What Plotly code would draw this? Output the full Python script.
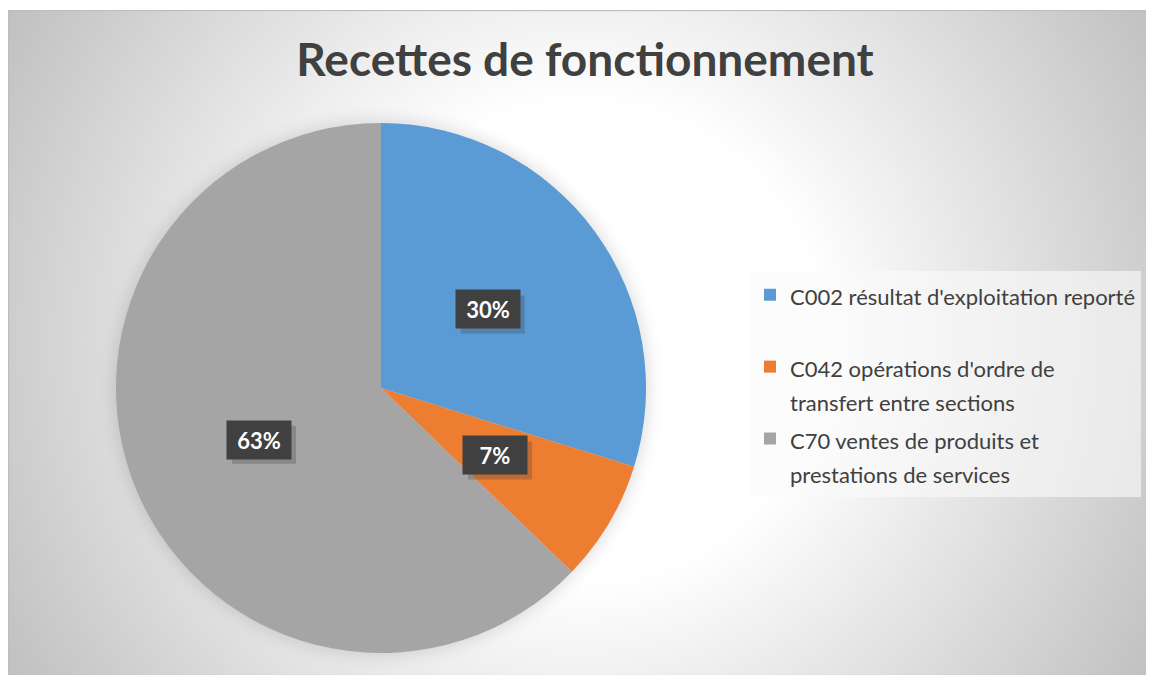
import base64
import math
import plotly.graph_objects as go

# ---- data ----
categories = [
    "C002 résultat d'exploitation reporté",
    "C042 opérations d'ordre de transfert entre sections",
    "C70 ventes de produits et prestations de services",
]
legend_lines = [
    ["C002 résultat d'exploitation reporté", " "],
    ["C042 opérations d'ordre de", "transfert entre sections"],
    ["C70 ventes de produits et", "prestations de services"],
]
values = [29.8, 7.4, 62.8]
colors = ["#5B9BD5", "#ED7D31", "#A5A5A5"]
title_text = "Recettes de fonctionnement"

# ---- layout geometry (figure pixels; page has an 8px body margin) ----
W, H = 1146, 667
PIE_CX, PIE_CY, PIE_R = 373, 380, 265
FRAME_X0, FRAME_Y0 = 0, 2
TEXT_COLOR = "#404040"
FONT = "Lato"
BOX_W, BOX_H = 64, 38

dom_x = [(PIE_CX - PIE_R) / W, (PIE_CX + PIE_R) / W]
dom_y = [1 - (PIE_CY + PIE_R) / H, 1 - (PIE_CY - PIE_R) / H]

# ---- background: radial gradient + pie shadow, as an SVG layout image ----
fw, fh = W - FRAME_X0, H - FRAME_Y0
svg = f'''<svg xmlns="http://www.w3.org/2000/svg" width="{fw}" height="{fh}" viewBox="0 0 {fw} {fh}">
<defs>
<radialGradient id="g" gradientUnits="userSpaceOnUse" cx="{fw/2}" cy="{fh/2}" r="662">
<stop offset="0.36" stop-color="#ffffff"/>
<stop offset="1" stop-color="#c0c0c0"/>
</radialGradient>
<filter id="b" x="-30%" y="-30%" width="160%" height="160%"><feGaussianBlur stdDeviation="8"/></filter>
</defs>
<rect width="{fw}" height="{fh}" fill="url(#g)"/>
<circle cx="{PIE_CX - FRAME_X0}" cy="{PIE_CY - FRAME_Y0}" r="{PIE_R + 3}" fill="#000" fill-opacity="0.12" filter="url(#b)"/>
<rect x="0.5" y="0.5" width="{fw}" height="{fh}" fill="none" stroke="#bdbdbd" stroke-width="1.2"/>
</svg>'''
svg_uri = "data:image/svg+xml;base64," + base64.b64encode(svg.encode("utf-8")).decode("ascii")

# ---- legend labels with larger line spacing ----
def legend_label(lines):
    return "<br>".join(f'<span style="font-size:22px">{ln}</span>' for ln in lines)

fig = go.Figure(
    go.Pie(
        labels=[legend_label(l) for l in legend_lines],
        values=values,
        sort=False,
        direction="clockwise",
        rotation=0,
        textinfo="none",
        marker=dict(colors=colors, line=dict(width=0)),
        domain=dict(x=dom_x, y=dom_y),
        hovertext=categories,
        hoverinfo="text+percent",
    )
)

# ---- percentage labels (boxes) computed from the values ----
total = sum(values)
annotations, shapes = [], []
start = 0.0
for v in values:
    frac = v / total
    mid = (start + frac / 2) * 2 * math.pi
    start += frac
    px = PIE_CX + 0.5 * PIE_R * math.sin(mid)
    py = PIE_CY - 0.5 * PIE_R * math.cos(mid)
    # drop shadow of the label box
    shapes.append(dict(type="rect", xref="paper", yref="paper", layer="above",
                       x0=(px - BOX_W / 2 + 5) / W, x1=(px + BOX_W / 2 + 5) / W,
                       y0=1 - (py + BOX_H / 2 + 5) / H, y1=1 - (py - BOX_H / 2 + 5) / H,
                       fillcolor="rgba(60,60,60,0.28)", line=dict(width=0)))
    annotations.append(dict(text=f"<b>{round(frac * 100):d}%</b>",
                            x=px / W, y=1 - py / H, xref="paper", yref="paper",
                            showarrow=False, width=BOX_W - 4, height=BOX_H - 4, borderpad=2,
                            xanchor="center", yanchor="middle",
                            font=dict(family=FONT, size=22, color="#ffffff"),
                            bgcolor="#404040"))

fig.update_layout(
    width=W, height=H, autosize=False,
    margin=dict(l=0, r=0, t=0, b=0),
    paper_bgcolor="#ffffff",
    font=dict(family=FONT, color=TEXT_COLOR),
    title=dict(text=f"<b>{title_text}</b>", x=577 / W, xanchor="center",
               y=1 - 52 / H, yanchor="middle", yref="container",
               font=dict(family=FONT, size=46, color=TEXT_COLOR)),
    legend=dict(x=742 / W, xanchor="left", y=1 - 263 / H, yanchor="top",
                bgcolor="rgba(250,250,250,0.62)", valign="top",
                font=dict(family=FONT, size=26.5, color=TEXT_COLOR),
                traceorder="normal"),
    images=[dict(source=svg_uri, xref="paper", yref="paper",
                 x=FRAME_X0 / W, y=1 - FRAME_Y0 / H,
                 sizex=fw / W, sizey=fh / H, sizing="stretch",
                 xanchor="left", yanchor="top", layer="below")],
    annotations=annotations,
    shapes=shapes,
)

fig.write_html("out.html")
